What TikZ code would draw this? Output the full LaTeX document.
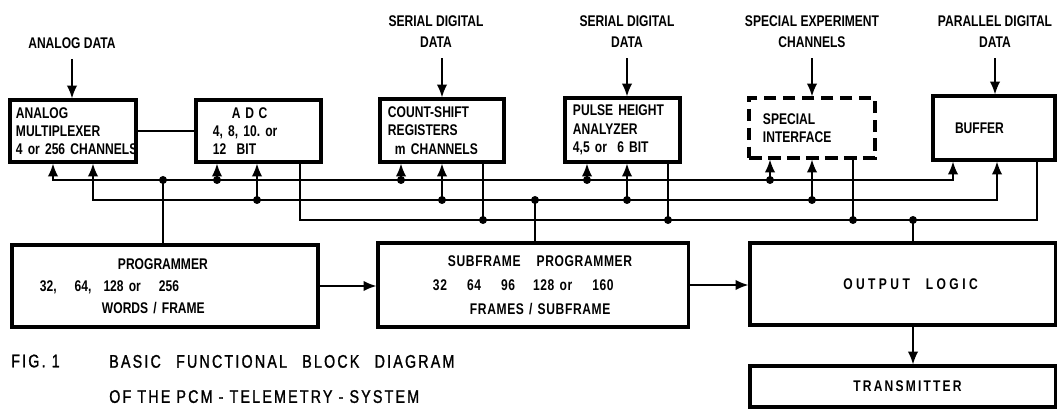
\documentclass[tikz,border=0pt]{standalone}
\usepackage{fontspec}
\setmainfont{Liberation Sans}[FakeStretch=0.78]
\usetikzlibrary{arrows.meta,positioning}
\hyphenpenalty=10000
\exhyphenpenalty=10000

\begin{document}
\begin{tikzpicture}[x=0.025cm, y=-0.025cm,
    >={Latex[length=3.2mm,width=2.6mm]},
    blk/.style={draw, line width=2.2pt, inner ysep=0pt, align=left,
      font=\bfseries\fontsize{11}{13}\selectfont},
    dashblk/.style={blk, dash pattern=on 9pt off 4.5pt},
    lbl/.style={inner sep=0pt, align=center, font=\bfseries\fontsize{11}{15}\selectfont},
    capt/.style={inner sep=0pt, align=left,
      font=\fontsize{13}{25}\selectfont\addfontfeature{LetterSpace=12,FakeBold=1.2}},
    bus/.style={line width=1.2pt}]
  \useasboundingbox (0,0) rectangle (1058,412);

  % input labels
  \node[lbl] (adat) at (72,43) {ANALOG DATA};
  \node[lbl] (sdat1) at (436,32) {SERIAL DIGITAL\\DATA};
  \node[lbl] (sdat2) at (627,32) {SERIAL DIGITAL\\DATA};
  \node[lbl] (spx) at (812,32) {SPECIAL EXPERIMENT\\CHANNELS};
  \node[lbl] (pdat) at (995,32) {PARALLEL DIGITAL\\DATA};

  % upper row
  \node[blk, minimum width=3.15cm, minimum height=1.55cm, inner xsep=0.15cm, text width=2.85cm]
    (mux) at (73,131) {ANALOG\\MULTIPLEXER\\4~or~256~CHANNELS};
  \node[blk, minimum width=3.125cm, minimum height=1.55cm, inner xsep=0.425cm, text width=2.275cm]
    (adc) at (258.5,131) {\hspace*{0.475cm}{\addfontfeature{LetterSpace=30}ADC}\\4,~8,~10.~or\\12~~BIT};
  \node[blk, minimum width=3.1cm, minimum height=1.575cm, inner xsep=0.2cm, text width=2.7cm]
    (csr) at (442,130.5) {COUNT-SHIFT\\REGISTERS\\\hspace*{0.175cm}m~CHANNELS};
  \node[blk, minimum width=2.875cm, minimum height=1.6cm, inner xsep=0.2cm, text width=2.475cm]
    (pha) at (622.5,130) {PULSE~HEIGHT\\ANALYZER\\4,5~or~~6~BIT};
  \node[dashblk, minimum width=3.15cm, minimum height=1.5cm, inner xsep=0.35cm, text width=2.45cm]
    (sif) at (812,128) {SPECIAL\\INTERFACE};
  \node[blk, minimum width=3.05cm, minimum height=1.6cm, inner xsep=0.55cm, text width=1.95cm]
    (buf) at (994,128) {BUFFER};

  % lower row
  \node[blk, minimum width=7.65cm, minimum height=2.05cm, inner xsep=0.7cm, text width=6.25cm,
      font=\bfseries\fontsize{11}{15.5}\selectfont]
    (prog) at (165,286) {\hspace*{1.95cm}PROGRAMMER\\32,\hspace{0.45cm}64,\hspace{0.3cm}128~or\hspace{0.45cm}256\\\hspace*{1.55cm}WORDS~/~FRAME};
  \node[blk, minimum width=7.75cm, minimum height=2.1cm, inner xsep=1.3cm, text width=5.15cm,
      font=\bfseries\fontsize{11}{17}\selectfont\addfontfeature{LetterSpace=4}]
    (sub) at (533,285) {\hspace*{0.45cm}SUBFRAME\hspace{0.4cm}PROGRAMMER\\\hspace*{0.075cm}32\hspace{0.5cm}64\hspace{0.5cm}96\hspace{0.45cm}128~or\hspace{0.5cm}160\\\hspace*{1cm}FRAMES~/~SUBFRAME};
  \node[blk, align=center, minimum width=7.625cm, minimum height=2.05cm,
      font=\bfseries\fontsize{11}{13}\selectfont\addfontfeature{LetterSpace=22}]
    (olog) at (902.5,284) {\hspace*{0.4cm}OUTPUT\hspace{0.4cm}LOGIC};
  \node[blk, align=center, minimum width=7.625cm, minimum height=1.025cm,
      font=\bfseries\fontsize{11}{13}\selectfont\addfontfeature{LetterSpace=14}]
    (tx) at (902.5,386.5) {\hspace*{0.25cm}TRANSMITTER};

  % caption
  \node[capt, anchor=west] (fig) at (11,361) {FIG. 1};
  \node[capt, anchor=west] (cap) at (109,379) {BASIC\hspace{0.5em} FUNCTIONAL\hspace{0.5em} BLOCK\hspace{0.5em} DIAGRAM\\OF THE PCM - TELEMETRY - SYSTEM};

  % data inputs
  \draw[bus, ->, shorten <=0.25cm] (adat.south) -- (adat.south |- mux.north);
  \draw[bus, ->, shorten <=0.25cm] (csr.north |- sdat1.south) -- (csr.north);
  \draw[bus, ->, shorten <=0.25cm] (sdat2.south) -- (sdat2.south |- pha.north);
  \draw[bus, ->, shorten <=0.25cm] (spx.south) -- (spx.south |- sif.north);
  \draw[bus, ->, shorten <=0.25cm] (pdat.south) -- (pdat.south |- buf.north);
  \draw[bus] (mux) -- (adc);

  % the three buses
  \coordinate (b1w) at (53,180);  \coordinate (b1e) at (953,180);
  \coordinate (b2w) at (93,200);  \coordinate (b2e) at (997,200);
  \coordinate (b3w) at (300,220); \coordinate (b3e) at (1037,220);
  \draw[bus, <->] (mux.south -| b1w) -- (b1w) -- (b1e) -- (b1e |- buf.south);
  \draw[bus, <->] (mux.south -| b2w) -- (b2w) -- (b2e) -- (b2e |- buf.south);
  \draw[bus] (adc.south -| b3w) -- (b3w) -- (b3e) -- (b3e |- buf.south);

  \foreach \n/\x in {1/217, 2/401, 3/587, 4/770} \coordinate (c\n) at (\x,180);
  \foreach \n/\x in {1/257, 2/442, 3/627, 4/812} \coordinate (d\n) at (\x,200);
  \foreach \n/\x in {2/483, 3/668, 4/853} \coordinate (e\n) at (\x,220);
  \foreach \n/\b in {1/adc, 2/csr, 3/pha, 4/sif} {
    \draw[bus, ->] (c\n) -- (c\n |- \b.south);
    \draw[bus, ->] (d\n) -- (d\n |- \b.south);
    \fill (c\n) circle (0.1cm);
    \fill (d\n) circle (0.1cm);
  }
  \foreach \n/\b in {2/csr, 3/pha, 4/sif} {
    \draw[bus] (e\n |- \b.south) -- (e\n);
    \fill (e\n) circle (0.1cm);
  }

  % programmers and output logic on the buses
  \coordinate (pg) at (163,180);
  \coordinate (sp) at (535,200);
  \coordinate (ol) at (913,220);
  \draw[bus] (pg) -- (pg |- prog.north);
  \draw[bus] (sp) -- (sp |- sub.north);
  \draw[bus] (ol) -- (ol |- olog.north);
  \fill (pg) circle (0.1cm);
  \fill (sp) circle (0.1cm);
  \fill (ol) circle (0.1cm);

  \draw[bus, ->] (prog.east) -- (prog.east -| sub.west);
  \draw[bus, ->] (sub.east) -- (sub.east -| olog.west);
  \draw[bus, ->] (ol |- olog.south) -- (ol |- tx.north);
\end{tikzpicture}
\end{document}
